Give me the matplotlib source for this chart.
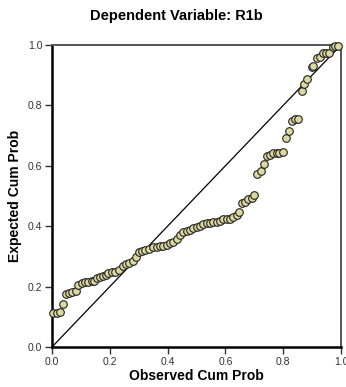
import matplotlib
matplotlib.use('Agg')
import matplotlib.pyplot as plt

plt.rcParams['font.family'] = ['Liberation Sans', 'DejaVu Sans']

title = 'Dependent Variable: R1b'
xlabel = 'Observed Cum Prob'
ylabel = 'Expected Cum Prob'
ticks = [0.0, 0.2, 0.4, 0.6, 0.8, 1.0]

observed = [0.005, 0.016, 0.028, 0.039, 0.048, 0.060, 0.070, 0.082,
            0.091, 0.103, 0.114, 0.126, 0.137, 0.146,
            0.157, 0.166, 0.175, 0.186, 0.195, 0.207, 0.218, 0.233,
            0.245, 0.256, 0.267, 0.279, 0.291,
            0.300, 0.310, 0.322, 0.337,
            0.351, 0.362, 0.374, 0.385, 0.397, 0.408, 0.420, 0.431, 0.443,
            0.454, 0.466, 0.477, 0.489, 0.500, 0.512, 0.523, 0.535, 0.547,
            0.558, 0.570, 0.581, 0.593, 0.604, 0.616, 0.627, 0.639, 0.647,
            0.656, 0.668, 0.679, 0.691, 0.700,
            0.710, 0.722, 0.734,
            0.743, 0.754, 0.766, 0.777, 0.787, 0.798,
            0.809, 0.820, 0.829, 0.841, 0.850,
            0.864, 0.873, 0.881,
            0.899, 0.904, 0.916, 0.927, 0.939, 0.948, 0.960, 0.971, 0.979, 0.989]
expected = [0.113, 0.113, 0.115, 0.142, 0.175, 0.178, 0.181, 0.185,
            0.205, 0.211, 0.214, 0.215, 0.218, 0.220,
            0.227, 0.233, 0.236, 0.238, 0.244, 0.247, 0.250, 0.255,
            0.269, 0.274, 0.279, 0.286, 0.297,
            0.316, 0.319, 0.320, 0.324,
            0.330, 0.332, 0.333, 0.335, 0.338, 0.343, 0.349, 0.357, 0.371,
            0.382, 0.384, 0.387, 0.393, 0.398, 0.401, 0.406, 0.409, 0.411,
            0.414, 0.414, 0.418, 0.423, 0.424, 0.424, 0.431, 0.436, 0.446,
            0.478, 0.481, 0.489, 0.492, 0.503,
            0.573, 0.584, 0.606,
            0.632, 0.636, 0.641, 0.643, 0.643, 0.645,
            0.691, 0.716, 0.748, 0.754, 0.755,
            0.849, 0.871, 0.886,
            0.928, 0.930, 0.956, 0.961, 0.973, 0.975, 0.975, 0.994, 0.997, 0.997]

fig = plt.figure(figsize=(3.46, 3.87), dpi=100)
ax = fig.add_axes([52/346, 40/387, 289/346, 302/387])

ax.plot([0, 1], [0, 1], color='black', lw=0.9, zorder=2)
ax.scatter(observed, expected, s=30, facecolor='#ddd7a0', edgecolor='#222222',
           linewidths=0.8, zorder=3, clip_on=False)

ax.set_xlim(0, 1)
ax.set_ylim(0, 1)
ax.set_xticks(ticks)
ax.set_yticks(ticks)
ax.set_xticklabels(['%.1f' % t for t in ticks])
ax.set_yticklabels(['%.1f' % t for t in ticks])
ax.tick_params(direction='out', length=5, width=1, labelsize=7.5, colors='#333333', pad=2)

for side in ['left', 'bottom']:
    ax.spines[side].set_linewidth(1.8)
    ax.spines[side].set_color('black')
for side in ['top', 'right']:
    ax.spines[side].set_linewidth(1.4)
    ax.spines[side].set_color('#555555')

ax.set_xlabel(xlabel, fontsize=10, fontweight='bold', labelpad=2)
ax.set_ylabel(ylabel, fontsize=10, fontweight='bold', labelpad=4)
fig.text(0.51, 1 - 16/387, title, fontsize=10.5, fontweight='bold',
         ha='center', va='center')

fig.savefig('out.png', dpi=100)
